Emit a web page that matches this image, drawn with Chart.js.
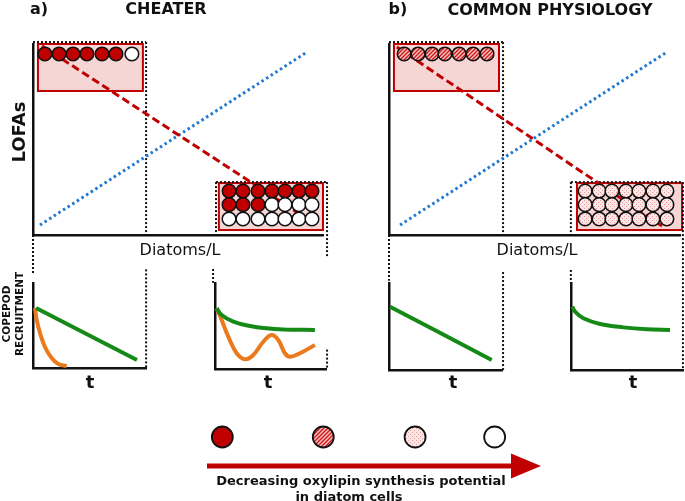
<!DOCTYPE html>
<html>
<head>
<meta charset="utf-8">
<script src="https://cdn.jsdelivr.net/npm/chart.js@4.4.1/dist/chart.umd.min.js"></script>
<style>
  body { margin: 0; background: #fff; }
  #fig { position: relative; width: 685px; height: 501px; overflow: hidden;
         font-family: "DejaVu Sans", Verdana, sans-serif; color: #111; }
  #fig canvas { position: absolute; }
  .lbl { position: absolute; white-space: nowrap; line-height: 1; transform: translate(-50%, -50%); }
  .rot { transform: translate(-50%, -50%) rotate(-90deg); }
  .b { font-weight: bold; }
</style>
</head>
<body>
<div id="fig">
  <canvas id="mainA" width="340" height="380" style="left:0;top:0"></canvas>
  <canvas id="mainB" width="329" height="380" style="left:356px;top:0"></canvas>
  <canvas id="recA1" width="160" height="110" style="left:0;top:270px"></canvas>
  <canvas id="recA2" width="140" height="110" style="left:200px;top:270px"></canvas>
  <canvas id="recB1" width="150" height="110" style="left:370px;top:270px"></canvas>
  <canvas id="recB2" width="130" height="110" style="left:555px;top:270px"></canvas>
  <canvas id="legendArrow" width="380" height="60" style="left:180px;top:420px"></canvas>

  <div class="lbl b" style="left:39px;top:9px;font-size:16px">a)</div>
  <div class="lbl b" style="left:166px;top:9px;font-size:16px">CHEATER</div>
  <div class="lbl b" style="left:398px;top:9px;font-size:16px">b)</div>
  <div class="lbl b" style="left:550px;top:10px;font-size:16px">COMMON PHYSIOLOGY</div>
  <div class="lbl b rot" style="left:19px;top:132px;font-size:18px">LOFAs</div>
  <div class="lbl" style="left:180px;top:250px;font-size:16px">Diatoms/L</div>
  <div class="lbl" style="left:537px;top:250px;font-size:16px">Diatoms/L</div>
  <div class="lbl b rot" style="left:6px;top:314px;font-size:10.5px">COPEPOD</div>
  <div class="lbl b rot" style="left:19px;top:314px;font-size:10.5px">RECRUITMENT</div>
  <div class="lbl b" style="left:90px;top:382px;font-size:18px">t</div>
  <div class="lbl b" style="left:268px;top:382px;font-size:18px">t</div>
  <div class="lbl b" style="left:453px;top:382px;font-size:18px">t</div>
  <div class="lbl b" style="left:633px;top:382px;font-size:18px">t</div>
  <div class="lbl b" style="left:361px;top:480px;font-size:13px">Decreasing oxylipin synthesis potential</div>
  <div class="lbl b" style="left:349px;top:496px;font-size:13px">in diatom cells</div>
</div>

<script>
// ---- data (main panels use 0-100 units on both axes) ----

// rising blue dotted line and falling red dashed line
const risingLineA = [[2.4, 5.2], [94.5, 95.8]];
const fallingLineA = [[3.1, 99], [96.2, 6.8]];
const risingLineB = [[3.8, 5.2], [95.5, 95.8]];
const fallingLineB = [[2.7, 98.4], [93.8, 4.7]];

// red boxes: [xMin, xMax, yMin, yMax]
const boxesA = [[1.7, 37.9, 75.4, 100], [64.1, 100, 2.6, 27.2]];
const boxesB = [[1.7, 37.8, 75.4, 100], [64.6, 100.7, 2.6, 27.2]];

// diatom cells at low density (one row) and high density (three rows)
const lowCellXA = [4.1, 9.0, 13.8, 18.6, 23.8, 28.6, 34.1];
const highCellXA = [67.6, 72.4, 77.6, 82.4, 86.9, 91.7, 96.2];
const lowCellXB = [5.2, 10.0, 14.8, 19.2, 24.1, 28.9, 33.7];
const highCellXB = [67.4, 72.2, 76.6, 81.4, 85.9, 90.7, 95.5];
const lowCellY = [94.8];
const highCellY = [23.0, 15.9, 8.4];

const lowCellsA = [['full', 'full', 'full', 'full', 'full', 'full', 'none']];
const highCellsA = [
  ['full', 'full', 'full', 'full', 'full', 'full', 'full'],
  ['full', 'full', 'full', 'none', 'none', 'none', 'none'],
  ['none', 'none', 'none', 'none', 'none', 'none', 'none']
];
const lowCellsB = [['hatched', 'hatched', 'hatched', 'hatched', 'hatched', 'hatched', 'hatched']];
const highCellsB = [
  ['dotted', 'dotted', 'dotted', 'dotted', 'dotted', 'dotted', 'dotted'],
  ['dotted', 'dotted', 'dotted', 'dotted', 'dotted', 'dotted', 'dotted'],
  ['dotted', 'dotted', 'dotted', 'dotted', 'dotted', 'dotted', 'dotted']
];

// copepod recruitment over time (0-10 units)
const greenA1 = [[0.27, 7.06], [9.2, 0.94]];
const orangeA1 = [[0.18, 7.06], [0.33, 5.65], [0.62, 4.12], [1.06, 2.47], [1.65, 1.18], [2.24, 0.47], [2.98, 0.24]];
const greenA2 = [[0.15, 7.06], [0.6, 6.28], [1.65, 5.5], [3.15, 5.0], [4.65, 4.73], [6.15, 4.6], [9.0, 4.53]];
const orangeA2 = [[0.15, 7.06], [0.6, 5.7], [1.2, 3.76], [1.95, 1.83], [2.7, 1.13], [3.45, 1.63], [4.35, 3.17],
                  [5.1, 3.95], [5.7, 3.37], [6.3, 1.83], [6.75, 1.43], [7.65, 1.83], [9.0, 2.79]];
const greenB1 = [[0.09, 7.28], [9.09, 1.15]];
const greenB2 = [[0.12, 7.28], [0.36, 6.7], [1.1, 5.94], [2.6, 5.29], [4.67, 4.9], [6.76, 4.68], [8.84, 4.6]];

// legend: decreasing synthesis potential (%)
const legendPotential = [95, 62, 32, 6];
const legendCells = ['full', 'hatched', 'dotted', 'none'];

// ---- styling ----
const RED = '#c00000';

function makePattern(draw) {
  const c = document.createElement('canvas');
  c.width = 4; c.height = 4;
  const g = c.getContext('2d');
  draw(g);
  return g.createPattern(c, 'repeat');
}
const hatch = makePattern(g => {
  g.fillStyle = '#f7c4c4'; g.fillRect(0, 0, 4, 4);
  g.strokeStyle = '#d01818'; g.lineWidth = 1.4;
  g.beginPath();
  g.moveTo(-1, 5); g.lineTo(5, -1);
  g.moveTo(-1, 1); g.lineTo(1, -1);
  g.moveTo(3, 5); g.lineTo(5, 3);
  g.stroke();
});
const dots = makePattern(g => {
  g.fillStyle = '#fbe6e6'; g.fillRect(0, 0, 4, 4);
  g.fillStyle = '#e79a9a';
  g.fillRect(0, 0, 1, 1); g.fillRect(2, 2, 1, 1);
});
const cellFill = { full: RED, hatched: hatch, dotted: dots, none: '#ffffff' };

// dotted "zoom" frames, in main-chart units (negative y reaches the small plots below)
const framesA = [
  [[0, 101], [39, 101]], [[39, 101], [39, 0]], [[0, 0], [0, -20]], [[39, -18], [39, -69.6]],
  [[63.1, 27.7], [101.4, 27.7]], [[63.1, 27.7], [63.1, 0]], [[101.4, 27.7], [101.4, -12]],
  [[62.1, -17.8], [62.1, -25]], [[101.4, -60], [101.4, -70.2]]
];
const framesB = [
  [[0, 101], [39.2, 101]], [[39.2, 101], [39.2, 0]], [[0, 0], [0, -24]], [[39.2, -19.4], [39.2, -70.7]],
  [[62.5, 27.7], [101, 27.7]], [[62.5, 27.7], [62.5, 0]], [[101, 27.7], [101, -70.7]],
  [[62.5, -18.3], [62.5, -25]]
];

const panelDecor = {
  id: 'panelDecor',
  beforeDatasetsDraw(chart, args, opts) {
    const { ctx, scales: { x, y } } = chart;
    ctx.save();
    opts.boxes.forEach(([x0, x1, y0, y1]) => {
      const l = x.getPixelForValue(x0), r = x.getPixelForValue(x1);
      const t = y.getPixelForValue(y1), b = y.getPixelForValue(y0);
      ctx.fillStyle = '#f6d5d5';
      ctx.fillRect(l, t, r - l, b - t);
      ctx.strokeStyle = RED;
      ctx.lineWidth = 2;
      ctx.strokeRect(l, t, r - l, b - t);
    });
    ctx.strokeStyle = '#111';
    ctx.lineWidth = 2;
    ctx.setLineDash([2, 2]);
    opts.frames.forEach(([[ax, ay], [bx, by]]) => {
      ctx.beginPath();
      ctx.moveTo(x.getPixelForValue(ax), y.getPixelForValue(ay));
      ctx.lineTo(x.getPixelForValue(bx), y.getPixelForValue(by));
      ctx.stroke();
    });
    ctx.restore();
  }
};

const arrowHead = {
  id: 'arrowHead',
  afterDatasetsDraw(chart) {
    const pts = chart.getDatasetMeta(1).data;
    const end = pts[pts.length - 1];
    const ctx = chart.ctx;
    ctx.save();
    ctx.fillStyle = RED;
    ctx.beginPath();
    ctx.moveTo(end.x - 2, end.y - 12.5);
    ctx.lineTo(end.x + 28, end.y);
    ctx.lineTo(end.x - 2, end.y + 12.5);
    ctx.closePath();
    ctx.fill();
    ctx.restore();
  }
};

const toXY = arr => arr.map(([x, y]) => ({ x, y }));

function cellDataset(xs, ys, states) {
  const data = [], fills = [];
  ys.forEach((yv, r) => xs.forEach((xv, c) => {
    data.push({ x: xv, y: yv });
    fills.push(cellFill[states[r][c]]);
  }));
  return {
    data, pointRadius: 6.8, pointBackgroundColor: fills,
    pointBorderColor: '#111', pointBorderWidth: 1.5, clip: false
  };
}

function axis(min, max) {
  return {
    type: 'linear', min, max,
    ticks: { display: false },
    grid: { display: false, drawTicks: false },
    border: { color: '#111', width: 2.5 }
  };
}

const baseOptions = {
  responsive: false, animation: false, events: [], devicePixelRatio: 1,
  plugins: { legend: { display: false }, tooltip: { enabled: false } }
};

function mainChart(id, padding, panel) {
  return new Chart(document.getElementById(id), {
    type: 'scatter',
    data: {
      datasets: [
        cellDataset(panel.lowX, lowCellY, panel.low),
        cellDataset(panel.highX, highCellY, panel.high),
        { data: toXY(panel.falling), showLine: true, borderColor: RED, borderWidth: 3,
          borderDash: [8, 4], pointRadius: 0, clip: false },
        { data: toXY(panel.rising), showLine: true, borderColor: '#1f78d1', borderWidth: 3,
          borderDash: [2.5, 3], pointRadius: 0, clip: false }
      ]
    },
    options: {
      ...baseOptions,
      layout: { padding, autoPadding: false },
      plugins: { ...baseOptions.plugins, panelDecor: { boxes: panel.boxes, frames: panel.frames } },
      scales: { x: axis(0, 100), y: axis(0, 100) }
    },
    plugins: [panelDecor]
  });
}

function recruitChart(id, padding, green, orange) {
  const datasets = [{ data: toXY(green), showLine: true, borderColor: '#168a16', borderWidth: 4,
                      tension: 0.4, pointRadius: 0, clip: false }];
  if (orange) {
    datasets.push({ data: toXY(orange), showLine: true, borderColor: '#ea7a1c', borderWidth: 4,
                    tension: 0.4, pointRadius: 0, clip: false });
  }
  return new Chart(document.getElementById(id), {
    type: 'scatter',
    data: { datasets },
    options: {
      ...baseOptions,
      layout: { padding, autoPadding: false },
      scales: { x: axis(0, 10), y: axis(0, 10) }
    }
  });
}

mainChart('mainA', { left: 33, top: 44, right: 17, bottom: 145 }, {
  lowX: lowCellXA, highX: highCellXA, low: lowCellsA, high: highCellsA,
  rising: risingLineA, falling: fallingLineA, boxes: boxesA, frames: framesA
});
mainChart('mainB', { left: 33, top: 44, right: 5, bottom: 145 }, {
  lowX: lowCellXB, highX: highCellXB, low: lowCellsB, high: highCellsB,
  rising: risingLineB, falling: fallingLineB, boxes: boxesB, frames: framesB
});

recruitChart('recA1', { left: 33, top: 13, right: 14, bottom: 12 }, greenA1, orangeA1);
recruitChart('recA2', { left: 15, top: 13, right: 14, bottom: 11 }, greenA2, orangeA2);
recruitChart('recB1', { left: 19, top: 13, right: 18, bottom: 10 }, greenB1);
recruitChart('recB2', { left: 16, top: 13, right: 2, bottom: 10 }, greenB2);

// legend: cells by synthesis potential above the arrow
new Chart(document.getElementById('legendArrow'), {
  type: 'scatter',
  data: {
    datasets: [
      { data: legendPotential.map(p => ({ x: p, y: 1 })), pointRadius: 10.5,
        pointBackgroundColor: legendCells.map(k => cellFill[k]),
        pointBorderColor: '#111', pointBorderWidth: 1.8, clip: false },
      { data: [{ x: 100, y: 0 }, { x: 0, y: 0 }], showLine: true, borderColor: RED,
        borderWidth: 5, pointRadius: 0, clip: false }
    ]
  },
  options: {
    ...baseOptions,
    layout: { padding: { left: 27, right: 47, top: 17, bottom: 14 }, autoPadding: false },
    scales: {
      x: { type: 'linear', min: 0, max: 100, reverse: true, display: false },
      y: { type: 'linear', min: 0, max: 1, display: false }
    }
  },
  plugins: [arrowHead]
});
</script>
</body>
</html>
